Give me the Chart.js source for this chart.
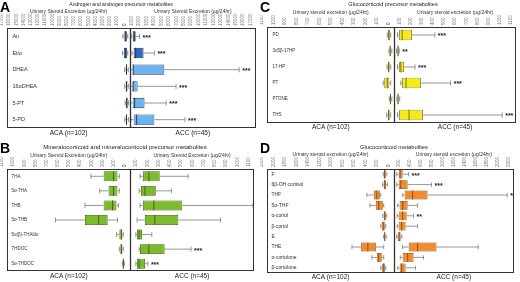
<!DOCTYPE html>
<html><head><meta charset="utf-8">
<script src="https://cdn.jsdelivr.net/npm/chart.js@4.4.1/dist/chart.umd.min.js"></script>
<style>
html,body{margin:0;padding:0;background:#fff;width:520px;height:282px;overflow:hidden;font-family:"Liberation Sans",Arial,sans-serif}
.p{position:absolute;width:260px;height:141px}
.lt{position:absolute;font-weight:bold;font-size:14px;line-height:14px;color:#000;z-index:2}
.tt{position:absolute;color:#222;white-space:nowrap;transform:translate(-50%,-50%);z-index:2}
</style></head><body>
<div class="p" style="left:0;top:0"><canvas id="cA"></canvas></div>
<div class="p" style="left:260px;top:0"><canvas id="cC"></canvas></div>
<div class="p" style="left:0;top:141px"><canvas id="cB"></canvas></div>
<div class="p" style="left:260px;top:141px"><canvas id="cD"></canvas></div>
<div class="lt" style="left:0;top:0">A</div>
<div class="lt" style="left:260px;top:0">C</div>
<div class="lt" style="left:0;top:141px">B</div>
<div class="lt" style="left:260px;top:141px">D</div>
<div class="tt" style="left:121px;top:4px;font-size:5px">Androgen and androgen precursor metabolites</div>
<div class="tt" style="left:393px;top:4px;font-size:5.5px">Glucocorticoid precursor metabolites</div>
<div class="tt" style="left:125px;top:147px;font-size:6px">Mineralocorticoid and mineralocorticoid precursor metabolites</div>
<div class="tt" style="left:394px;top:147px;font-size:5.8px">Glucocorticoid metabolites</div>
<script>
// ---------- Panel A ----------
const catsA = ['An','Etio','DHEA','16αDHEA','5-PT','5-PD'];
const acaA = [[270,410,550,750,960],[270,400,550,800,1000],[200,350,450,550,700],[150,350,420,550,700],[150,300,400,500,650],[150,350,450,550,700]];
const accA = [[200,400,600,800,1330],[300,530,800,1860,3320],[100,400,470,4650,14740],[100,400,450,1060,6240],[100,400,660,1990,4910],[150,530,930,3320,7440]];
const starsA = ['***','***','***','***','***','***'];
const ticksA = [0,1000,2000,3000,4000,5000,6000,7000,8000,9000,10000,11000,12000,13000,14000,15000,16000,17000];
const fillA = ['#2d5b99','#2f6cc6','#6db3ef','#6db3ef','#6db3ef','#6db3ef'];

// ---------- Panel B ----------
const catsB = ['THA','5α-THA','THB','5α-THB','5α(β)-THAldo','THDOC','5α-THDOC'];
const acaB = [[97,114,150,238,352],[97,114,150,194,273],[106,123,158,238,405],[114,202,282,405,669],[62,70,79,97,123],[62,70,79,88,97],[53,57,62,66,70]];
const accB = [[87,113,166,262,515],[79,96,131,227,367],[87,113,210,463,1091],[61,131,218,428,803],[50,61,79,105,192],[79,87,166,306,541],[50,61,79,131,157]];
const starsB = ['','','','','','***','***'];
const ticksB = [0,100,200,300,400,500,600,700,800,900,1000,1100];

// ---------- Panel C ----------
const catsC = ['PD','3α5β-17HP','17-HP','PT','PTONE','THS'];
const acaC = [[30,40,45,52,60],[20,30,35,40,45],[30,40,48,55,62],[30,43,60,86,95],[20,28,32,38,42],[30,40,48,55,65]];
const accC = [[30,45,72,161,367],[20,30,35,40,45],[30,45,60,89,188],[60,72,107,241,510],[25,30,35,40,50],[30,45,134,259,975]];
const starsC = ['***','**','***','***','','***'];
const ticksC = [0,100,200,300,400,500,600,700,800,900,1000,1100];

// ---------- Panel D ----------
const catsD = ['F','6β-OH cortisol','THF','5α-THF','α-cortol','β-cortol','E','THE','α-cortolone','β-cortolone'];
const acaD = [[120,140,156,170,185],[110,135,156,175,195],[225,242,294,346,467],[173,190,260,311,415],[120,138,156,173,190],[138,156,182,208,225],[130,145,156,165,175],[173,311,450,571,727],[173,208,260,294,381],[138,156,173,200,225]];
const accD = [[55,91,118,164,273],[55,91,130,255,692],[164,200,346,619,2075],[73,109,164,255,437],[64,91,164,237,364],[64,91,146,218,437],[55,73,100,127,150],[164,273,437,783,1547],[120,164,255,364,546],[73,109,146,218,400]];
const starsD = ['***','***','*','','**','','','','',''];
const ticksD = [0,200,400,600,800,1000,1200,1400,1600,1800,2000,2200];

const F = '"Liberation Sans", Arial, sans-serif';

const boxPlugin = {
  id: 'boxwhisk',
  afterDatasetsDraw(chart) {
    const ctx = chart.ctx;
    chart.data.datasets.forEach((ds, di) => {
      const meta = chart.getDatasetMeta(di);
      const sc = chart.scales[ds.xAxisID];
      meta.data.forEach((el, j) => {
        const s = ds.stats[j];
        const px = s.map(v => sc.getPixelForValue(v));
        const y = el.y, h = el.height;
        ctx.save();
        ctx.strokeStyle = '#6a6a6a'; ctx.lineWidth = 0.7;
        ctx.beginPath();
        ctx.moveTo(px[0], y); ctx.lineTo(px[1], y);
        ctx.moveTo(px[3], y); ctx.lineTo(px[4], y);
        ctx.moveTo(px[0], y - h * 0.25); ctx.lineTo(px[0], y + h * 0.25);
        ctx.moveTo(px[4], y - h * 0.25); ctx.lineTo(px[4], y + h * 0.25);
        ctx.stroke();
        ctx.strokeStyle = ds.borderColor; ctx.lineWidth = 0.9;
        ctx.beginPath(); ctx.moveTo(px[2], y - h / 2); ctx.lineTo(px[2], y + h / 2); ctx.stroke();
        if (ds.stars && ds.stars[j]) {
          ctx.fillStyle = '#222'; ctx.font = 'bold 7px ' + F; ctx.textBaseline = 'middle'; ctx.textAlign = 'left';
          ctx.fillText(ds.stars[j], px[4] + 3, y + 1.5);
        }
        ctx.restore();
      });
    });
  },
  afterDraw(chart) {
    const {ctx, chartArea: a} = chart;
    ctx.save();
    ctx.strokeStyle = '#333'; ctx.lineWidth = 1;
    ctx.strokeRect(Math.round(a.left) + 0.5, Math.round(a.top) + 0.5, Math.round(a.width) - 1, Math.round(a.height) - 1);
    const xd = Math.round(chart.scales.xL.right) + 0.5;
    ctx.lineWidth = 1.3;
    ctx.beginPath(); ctx.moveTo(xd, a.top); ctx.lineTo(xd, a.bottom); ctx.stroke();
    ctx.restore();
  }
};

function topAxis(ticks, rev, w, h, title, weight) {
  return {
    type: 'linear', position: 'top', stack: 'top', stackWeight: w, weight: weight, reverse: rev,
    min: ticks[0], max: ticks[ticks.length - 1],
    afterBuildTicks: s => { s.ticks = ticks.map(v => ({value: v})); },
    grid: {display: false, drawTicks: false}, border: {display: false},
    ticks: {autoSkip: false, minRotation: 90, maxRotation: 90, padding: 2, font: {size: 4.5, family: F}, color: '#777', callback: v => String(v)},
    title: {display: true, text: title, font: {size: 5, family: F}, color: '#333', padding: {top: 0, bottom: 0}},
    afterFit: s => { s.height = h; }
  };
}
function botAxis(text, w, h, pad) {
  return {
    type: 'linear', position: 'bottom', stack: 'bot', stackWeight: w,
    grid: {display: false, drawTicks: false}, border: {display: false},
    ticks: {display: false},
    title: {display: true, text: text, font: {size: 6.5, family: F}, color: '#222', padding: {top: 0, bottom: pad}},
    afterFit: s => { s.height = h; }
  };
}

function build(id, p) {
  new Chart(document.getElementById(id), {
    type: 'bar',
    data: {
      labels: p.cats,
      datasets: [
        {label: 'ACA', xAxisID: 'xL', yAxisID: 'y', data: p.aca.map(s => [s[1], s[3]]), stats: p.aca,
         backgroundColor: p.fill, borderColor: p.edge, borderWidth: 0.8, borderSkipped: false, grouped: false,
         categoryPercentage: 1, barPercentage: p.bar},
        {label: 'ACC', xAxisID: 'xR', yAxisID: 'y', data: p.acc.map(s => [s[1], s[3]]), stats: p.acc, stars: p.stars,
         backgroundColor: p.fill, borderColor: p.edge, borderWidth: 0.8, borderSkipped: false, grouped: false,
         categoryPercentage: 1, barPercentage: p.bar}
      ]
    },
    options: {
      indexAxis: 'y', responsive: true, maintainAspectRatio: false, animation: false, devicePixelRatio: 1,
      layout: {padding: {left: p.padL, right: p.padR, top: p.padT, bottom: 0}},
      plugins: {legend: {display: false}, tooltip: {enabled: false}, title: {display: false}},
      scales: {
        y: {type: 'category', position: 'left', offset: true, grid: {display: false, drawTicks: false}, border: {display: false},
            ticks: {mirror: true, padding: p.lblPad, font: {size: p.lblSize, family: F}, color: '#333'},
            afterFit: s => { s.width = 0; }},
        xL: topAxis(p.ticks, true, p.wL, p.topH, p.axTitle, 1),
        xR: topAxis(p.ticks, false, p.wR, p.topH, p.axTitle, 0),
        bL: botAxis('ACA (n=102)', p.wL, p.botH, p.botPad),
        bR: botAxis('ACC (n=45)', p.wR, p.botH, p.botPad)
      }
    },
    plugins: [boxPlugin]
  });
}

build('cA', {cats: catsA, aca: acaA, acc: accA, stars: starsA, ticks: ticksA, fill: fillA, edge: '#22344a',
  bar: 0.62, padL: 4, padR: 4, padT: 8.5, topH: 19.5, botH: 13, botPad: 3.4, wL: 124, wR: 128,
  lblPad: 5, lblSize: 5.5, axTitle: 'Urinary Steroid Excretion (µg/24hr)'});
build('cB', {cats: catsB, aca: acaB, acc: accB, stars: starsB, ticks: ticksB, fill: '#7cbc2c', edge: '#3e5a14',
  bar: 0.68, padL: 3, padR: 6, padT: 12, topH: 16, botH: 11, botPad: 1.4, wL: 125, wR: 126,
  lblPad: 4, lblSize: 4.5, axTitle: 'Urinary Steroid Excretion (µg/24hr)'});
build('cC', {cats: catsC, aca: acaC, acc: accC, stars: starsC, ticks: ticksC, fill: '#f5eb1c', edge: '#6b6410',
  bar: 0.66, padL: 5, padR: 4, padT: 9.5, topH: 17.5, botH: 18, botPad: 9.4, wL: 128, wR: 123,
  lblPad: 5, lblSize: 4.5, axTitle: 'Urinary steroid excretion (µg/24hr)'});
build('cD', {cats: catsD, aca: acaD, acc: accD, stars: starsD, ticks: ticksD, fill: '#f28c28', edge: '#8a4a10',
  bar: 0.85, padL: 6, padR: 6, padT: 11, topH: 17, botH: 9, botPad: 0.4, wL: 127, wR: 121,
  lblPad: 4, lblSize: 5, axTitle: 'Urinary steroid excretion (µg/24hr)'});
</script>
</body></html>
